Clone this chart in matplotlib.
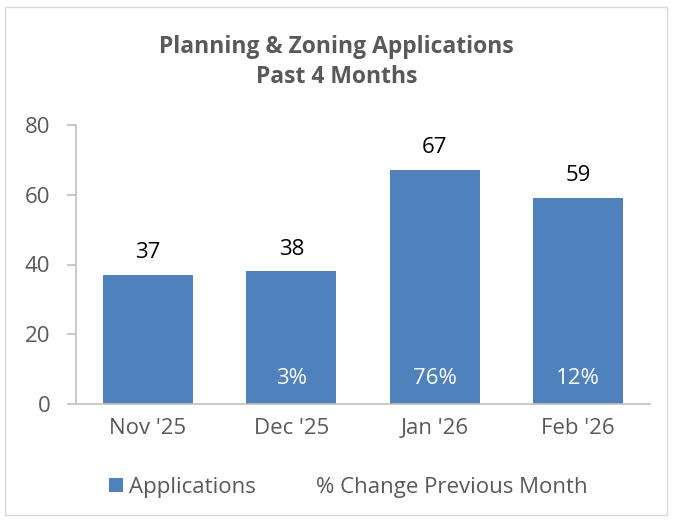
import matplotlib.pyplot as plt
from matplotlib.patches import Rectangle, Patch
from matplotlib.lines import Line2D

categories = ["Nov '25", "Dec '25", "Jan '26", "Feb '26"]
applications = [37, 38, 67, 59]
pct_change = ["", "3%", "76%", "12%"]
yticks = [0, 20, 40, 60, 80]

plt.rcParams['font.family'] = ['Open Sans', 'DejaVu Sans']

fig = plt.figure(figsize=(6.73, 5.2), dpi=100)
fig.patches.append(Rectangle((5/673, 1-515/520), 662/673, 508/520, transform=fig.transFigure,
                             fill=False, edgecolor='#d9d9d9', linewidth=1.0))
ax = fig.add_axes([76/673, 1-404/520, 574/673, 279/520])

blue = '#4f81bd'
fs = 16
x = range(len(categories))
bars = ax.bar(x, applications, width=0.63, color=blue, zorder=2)
for i, v in enumerate(applications):
    ax.text(i, v + 3.4, str(v), ha='center', va='bottom', fontsize=fs, color='black')
for i, p in enumerate(pct_change):
    if p:
        ax.text(i, 7.2, p, ha='center', va='center', fontsize=fs, color='white')

ax.set_xlim(-0.5, len(categories) - 0.5)
ax.set_ylim(0, 80)
ax.set_yticks(yticks)
ax.set_xticks(list(x))
ax.set_xticklabels(categories)
for s in ['top', 'right']:
    ax.spines[s].set_visible(False)
for s in ['left', 'bottom']:
    ax.spines[s].set_color('#bfbfbf')
    ax.spines[s].set_linewidth(1.2)
ax.tick_params(axis='y', colors='#bfbfbf', labelcolor='#595959', labelsize=fs, length=6.5, width=1.2, pad=12)
ax.tick_params(axis='x', length=0, labelcolor='#595959', labelsize=fs, pad=10)

fig.text(0.5, 1-47/520, "Planning & Zoning Applications", ha='center', va='center',
         fontsize=16.5, fontweight='bold', color='#595959')
fig.text(0.5, 1-77/520, "Past 4 Months", ha='center', va='center',
         fontsize=16.5, fontweight='bold', color='#595959')

handles = [Patch(facecolor=blue, edgecolor='none'), Line2D([], [], linestyle='none')]
leg = fig.legend(handles, ["Applications", "% Change Previous Month"], loc='center',
                 bbox_to_anchor=(0.518, 1-487/520), ncol=2, frameon=False, fontsize=fs,
                 handlelength=0.6, handleheight=0.6, handletextpad=0.3, columnspacing=1.8,
                 labelcolor='#595959')

fig.savefig('out.png', dpi=100)
